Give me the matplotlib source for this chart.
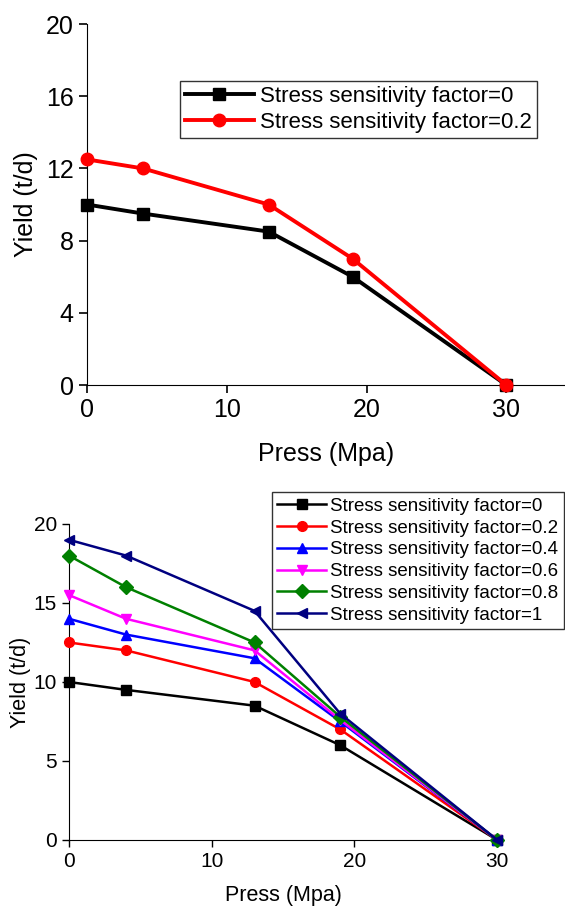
import matplotlib
matplotlib.use("Agg")
import matplotlib.pyplot as plt

plt.rcParams["font.family"] = ["Liberation Sans", "DejaVu Sans"]

press = [0, 4, 13, 19, 30]
f0 = [10, 9.5, 8.5, 6, 0]
f02 = [12.5, 12, 10, 7, 0]
f04 = [14, 13, 11.5, 7.5, 0]
f06 = [15.5, 14, 12, 7.6, 0]
f08 = [18, 16, 12.5, 7.8, 0]
f1 = [19, 18, 14.5, 8, 0]

labels = ["Stress sensitivity factor=0", "Stress sensitivity factor=0.2",
          "Stress sensitivity factor=0.4", "Stress sensitivity factor=0.6",
          "Stress sensitivity factor=0.8", "Stress sensitivity factor=1"]
series = [f0, f02, f04, f06, f08, f1]
colors = ["black", "red", "blue", "magenta", "green", "navy"]
markers = ["s", "o", "^", "v", "D", "<"]

fig = plt.figure(figsize=(5.65, 9.07), dpi=100)

# top panel
ax1 = fig.add_axes([0.154, 0.5755, 0.846, 0.398])
for k in range(2):
    ax1.plot(press, series[k], color=colors[k], marker=markers[k], lw=2.8,
             ms=9, label=labels[k], clip_on=False, zorder=3)
ax1.set_xlim(0, 34.2)
ax1.set_ylim(0, 20)
ax1.set_xticks([0, 10, 20, 30])
ax1.set_yticks([0, 4, 8, 12, 16, 20])
ax1.spines["top"].set_visible(False)
ax1.spines["right"].set_visible(False)
ax1.tick_params(direction="out", length=6, width=1.2, labelsize=18)
ax1.set_xlabel("Press (Mpa)", fontsize=18, labelpad=14)
ax1.set_ylabel("Yield (t/d)", fontsize=18, labelpad=6)
leg1 = ax1.legend(loc="upper right", bbox_to_anchor=(0.941, 0.842),
                  borderaxespad=0,
                  fontsize=16, fancybox=False, edgecolor="black",
                  handlelength=3.1, borderpad=0.2, labelspacing=0.25,
                  handletextpad=0.3)
leg1.get_frame().set_linewidth(1.0)

# bottom panel
ax2 = fig.add_axes([0.122, 0.0739, 0.758, 0.3484])
for k in range(6):
    ax2.plot(press, series[k], color=colors[k], marker=markers[k], lw=1.8,
             ms=7, label=labels[k], clip_on=False, zorder=3)
ax2.set_xlim(0, 30)
ax2.set_ylim(0, 20)
ax2.set_xticks([0, 10, 20, 30])
ax2.set_yticks([0, 5, 10, 15, 20])
ax2.spines["top"].set_visible(False)
ax2.spines["right"].set_visible(False)
ax2.tick_params(direction="out", length=5, width=1.0, labelsize=15)
ax2.set_xlabel("Press (Mpa)", fontsize=15.5, labelpad=10)
ax2.set_ylabel("Yield (t/d)", fontsize=15.5, labelpad=2)
leg2 = ax2.legend(loc="upper right", bbox_to_anchor=(1.155, 1.101),
                  borderaxespad=0,
                  fontsize=13.5, fancybox=False, edgecolor="black",
                  handlelength=2.6, borderpad=0.3, labelspacing=0.25,
                  handletextpad=0.2)
leg2.get_frame().set_linewidth(1.0)

fig.savefig("out.png", dpi=100)
